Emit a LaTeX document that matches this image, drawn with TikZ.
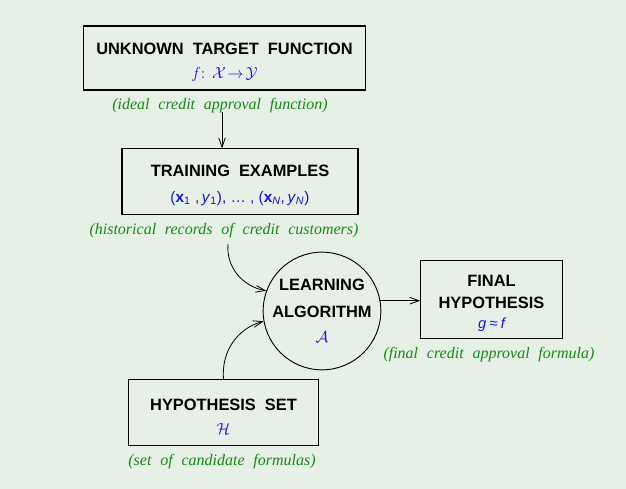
\documentclass[tikz,border=0pt]{standalone}
\usepackage{amsmath}
\usepackage{fontspec}
\usetikzlibrary{arrows.meta}
\newfontfamily\boxfont{Liberation Sans}
\newfontfamily\notefont[WordSpace=2.2]{Liberation Serif}
\definecolor{bgcol}{RGB}{230,240,230}
\definecolor{notecol}{RGB}{20,140,20}
\definecolor{mathcol}{RGB}{20,20,225}
\newcommand{\topstrut}{\rule{0pt}{14.5pt}}
\newcommand{\widespaces}{\spaceskip=0.55em plus 1pt\relax}
\newcommand{\formstyle}{\color{mathcol}\boxfont\mdseries\spaceskip=0pt\relax}
\newcommand{\mathstyle}{\color{mathcol}\normalfont\spaceskip=0pt\relax\fontsize{12}{14}\selectfont}

\begin{document}
\begin{tikzpicture}[x=0.75pt, y=-0.75pt]
    \tikzstyle{block}=[
        draw = black,
        line width = 0.8pt,
        fill = bgcol,
        align = center,
        inner sep = 0pt,
        font = \boxfont\fontsize{12.3}{15}\selectfont\bfseries\widespaces
    ]
    \tikzstyle{learner}=[
        block,
        circle,
        line width = 0.7pt,
        minimum size = 85.5pt
    ]
    \tikzstyle{note}=[
        text = notecol,
        font = \notefont\fontsize{12}{14}\selectfont\itshape
    ]
    \tikzstyle{link}=[
        line width = 0.6pt,
        -{Straight Barb[length=7pt,width=5pt]}
    ]

    \fill[bgcol] (0, 0) rectangle (626, 489);
    \useasboundingbox (0, 0) rectangle (626, 489);

    \node[block, minimum width=212pt, minimum height=48pt] (target) at (224.5, 58)
        {\topstrut UNKNOWN TARGET FUNCTION\\[3pt]
         {\mathstyle$f$: $\mathcal{X}\!\to\!\mathcal{Y}$}};
    \node[note] (targetnote) at (220, 106) {(ideal credit approval function)};

    \node[block, minimum width=177pt, minimum height=49pt] (train) at (240, 181.5)
        {\topstrut TRAINING EXAMPLES\\[4pt]
         {\formstyle\fontsize{11.5}{14}\selectfont
          ({\bfseries x}\textsubscript{1} ,\,\textit{y}\textsubscript{1}), \dots{} ,
          ({\bfseries x}\textsubscript{\textit{N}},\,\textit{y}\textsubscript{\textit{N}})}};
    \node[note] (trainnote) at (224, 231) {(historical records of credit customers)};

    \node[learner] (learn) at (322, 311)
        {LEARNING\\[5pt] ALGORITHM\\[4pt]
         {\mathstyle$\mathcal{A}$}};

    \node[block, minimum width=106pt, minimum height=59pt] (final) at (491.5, 299.5)
        {\topstrut FINAL\\[1pt] HYPOTHESIS\\[0pt]
         {\formstyle\itshape\fontsize{11}{13}\selectfont
          g\hspace{2.5pt}{\upshape≈}\hspace{2.5pt}f}};
    \node[note] (finalnote) at (489, 355) {(final credit approval formula)};

    \node[block, minimum width=142pt, minimum height=49pt] (hset) at (223.5, 412.5)
        {\topstrut HYPOTHESIS SET\\[3pt]
         {\mathstyle$\mathcal{H}$}};
    \node[note] (hsetnote) at (222, 462) {(set of candidate formulas)};

    \coordinate (top) at (222, 112);
    \coordinate (hist) at (228, 244);

    \draw[link] (top) -- (top |- train.north);
    \draw[link] (hist) to[out=-95, in=170] (learn.160);
    \draw[link] (hset.north) to[out=95, in=195] (learn.190);
    \draw[link] (learn.10) -- (learn.10 -| final.west);

\end{tikzpicture}
\end{document}
